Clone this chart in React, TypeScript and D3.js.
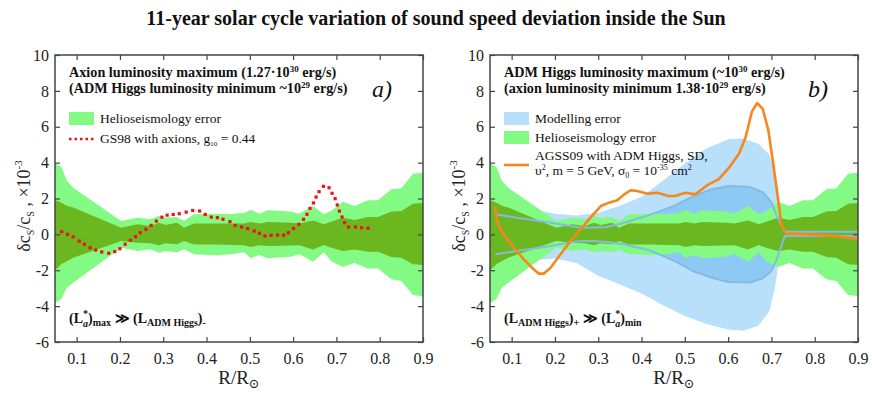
import React, { useEffect, useRef } from "react";
import { select, scaleLinear, axisLeft, axisRight, axisBottom, axisTop, area, line } from "d3";

// helioseismology error bands (same in both panels)
const helioX = [0.05, 0.055, 0.065, 0.077, 0.092, 0.203, 0.24, 0.27, 0.29, 0.305, 0.332, 0.348, 0.371, 0.425, 0.456, 0.487, 0.502, 0.522, 0.541, 0.595, 0.614, 0.646, 0.671, 0.688, 0.715, 0.742, 0.773, 0.796, 0.827, 0.85, 0.877, 0.9];
const helioOuterUp = [3.95, 3.9, 3.75, 3.0, 2.6, 0.75, 0.93, 0.84, 1.02, 0.93, 0.97, 0.75, 1.12, 1.15, 1.12, 1.2, 1.36, 1.15, 1.34, 1.27, 1.15, 1.58, 1.12, 1.3, 1.82, 1.58, 1.9, 1.9, 2.51, 2.57, 3.38, 3.44];
const helioOuterLo = [-3.8, -3.75, -3.6, -2.97, -2.7, -0.74, -0.93, -0.83, -1.02, -0.93, -1.0, -0.83, -1.11, -1.17, -1.11, -1.0, -1.33, -1.15, -1.33, -1.25, -1.1, -1.52, -1.0, -1.5, -1.82, -1.6, -1.9, -1.9, -2.5, -2.6, -3.38, -3.45];
const helioInnerUp = [1.9, 1.86, 1.77, 1.6, 1.5, 0.37, 0.56, 0.47, 0.65, 0.52, 0.65, 0.37, 0.6, 0.6, 0.6, 0.6, 0.69, 0.6, 0.69, 0.65, 0.6, 0.78, 0.56, 0.7, 0.93, 0.8, 0.97, 0.97, 1.27, 1.3, 1.71, 1.75];
const helioInnerLo = [-1.95, -1.9, -1.65, -1.5, -1.3, -0.37, -0.46, -0.5, -0.6, -0.5, -0.55, -0.37, -0.56, -0.56, -0.59, -0.6, -0.7, -0.6, -0.65, -0.62, -0.6, -0.84, -0.59, -0.75, -0.93, -0.85, -0.97, -0.97, -1.26, -1.3, -1.67, -1.71];

// panel a: GS98 with axions
const gsX = [0.0655, 0.079, 0.092, 0.106, 0.118, 0.131, 0.144, 0.158, 0.174, 0.188, 0.2, 0.212, 0.224, 0.236, 0.247, 0.26, 0.272, 0.284, 0.297, 0.309, 0.323, 0.337, 0.353, 0.368, 0.384, 0.397, 0.411, 0.425, 0.438, 0.454, 0.466, 0.481, 0.495, 0.51, 0.522, 0.535, 0.549, 0.564, 0.578, 0.589, 0.601, 0.613, 0.624, 0.632, 0.639, 0.647, 0.653, 0.66, 0.67, 0.683, 0.69, 0.697, 0.702, 0.707, 0.713, 0.719, 0.728, 0.744, 0.758, 0.773];
const gsY = [0.15, 0.0, -0.14, -0.37, -0.55, -0.74, -0.87, -0.98, -1.05, -0.96, -0.8, -0.55, -0.33, -0.13, 0.09, 0.28, 0.5, 0.74, 0.96, 1.07, 1.11, 1.15, 1.24, 1.33, 1.3, 1.11, 0.96, 0.93, 0.84, 0.71, 0.5, 0.41, 0.32, 0.19, 0.06, -0.09, -0.05, -0.04, -0.05, 0.09, 0.33, 0.56, 0.84, 1.12, 1.45, 1.75, 2.08, 2.38, 2.68, 2.6, 2.29, 1.99, 1.64, 1.3, 0.97, 0.65, 0.41, 0.41, 0.37, 0.34];

// panel b: modelling error
const modelOuterX = [0.05, 0.1, 0.15, 0.2, 0.25, 0.3, 0.35, 0.4, 0.45, 0.5, 0.55, 0.6, 0.635, 0.67, 0.695, 0.708, 0.715, 0.722, 0.732, 0.9];
const modelOuterUp = [2.2, 1.8, 1.4, 1.15, 1.05, 1.2, 1.6, 2.1, 3.0, 3.95, 4.8, 5.3, 5.35, 5.05, 4.45, 3.5, 2.2, 0.8, 0.12, 0.12];
const modelOuterLo = [-2.2, -1.8, -1.45, -1.35, -1.6, -2.3, -2.8, -3.3, -3.95, -4.55, -5.0, -5.3, -5.37, -5.1, -4.3, -3.0, -1.8, -0.8, -0.1, -0.1];
const modelInnerX = [0.062, 0.112, 0.19, 0.25, 0.278, 0.32, 0.36, 0.42, 0.476, 0.518, 0.56, 0.6, 0.65, 0.68, 0.7, 0.711, 0.731, 0.9];
const modelInnerUp = [1.12, 0.93, 0.65, 0.41, 0.37, 0.41, 0.65, 1.1, 1.6, 2.1, 2.5, 2.7, 2.65, 2.35, 1.8, 1.1, 0.15, 0.15];
const modelInnerLo = [-1.11, -0.93, -0.65, -0.4, -0.35, -0.42, -0.55, -0.9, -1.48, -2.04, -2.4, -2.65, -2.68, -2.45, -2.04, -1.48, -0.09, -0.09];

// panel b: AGSS09 with ADM Higgs
const agssX = [0.062, 0.066, 0.081, 0.105, 0.128, 0.151, 0.163, 0.174, 0.19, 0.213, 0.236, 0.259, 0.282, 0.306, 0.325, 0.344, 0.36, 0.375, 0.39, 0.414, 0.437, 0.462, 0.478, 0.501, 0.524, 0.555, 0.578, 0.602, 0.625, 0.64, 0.655, 0.667, 0.68, 0.693, 0.705, 0.716, 0.723, 0.734, 0.79, 0.85, 0.9];
const agssY = [1.58, 0.75, 0.0, -0.74, -1.39, -1.95, -2.19, -2.19, -1.86, -1.11, -0.37, 0.28, 0.93, 1.58, 1.77, 1.9, 2.23, 2.46, 2.42, 2.27, 2.32, 2.14, 2.14, 2.32, 2.23, 2.79, 3.07, 3.72, 4.5, 5.39, 6.85, 7.32, 7.0, 5.8, 3.8, 1.86, 0.56, 0.04, 0.0, -0.1, -0.25];

const xTicks = [0.1, 0.2, 0.3, 0.4, 0.5, 0.6, 0.7, 0.8, 0.9];
const yTicks = [-6, -4, -2, 0, 2, 4, 6, 8, 10];

const FONT = "'Liberation Serif', 'DejaVu Serif', serif";
const TOP = 55;
const PW = 368;
const PH = 287;
const LEFTS = [55, 490];

const C = {
  helioOuter: "#82fa84",
  helioInner: "#6bb720",
  modelOuter: "#b9e0fa",
  modelInner: "#8dcaf3",
  modelLine: "#88b9e0",
  agss: "#f7861c",
  gs: "#f01010",
  frame: "#444",
};

const xScale = scaleLinear().domain([0.05, 0.9]).range([0, PW]);
const yScale = scaleLinear().domain([-6, 10]).range([PH, 0]);

function band(g, xs, up, lo, fill) {
  const rows = xs.map((r, i) => ({ r, hi: up[i], lo: lo[i] }));
  const gen = area()
    .x(d => xScale(d.r))
    .y0(d => yScale(d.lo))
    .y1(d => yScale(d.hi));
  g.append("path").attr("d", gen(rows)).attr("fill", fill);
}

function curve(g, xs, ys, color, width) {
  const gen = line()
    .x(i => xScale(xs[i]))
    .y(i => yScale(ys[i]));
  g.append("path")
    .attr("d", gen(xs.map((_, i) => i)))
    .attr("fill", "none")
    .attr("stroke", color)
    .attr("stroke-width", width)
    .attr("stroke-linejoin", "round");
}

function axes(g) {
  const style = sel => {
    sel.select(".domain").remove();
    sel.selectAll("line").attr("stroke", C.frame).attr("stroke-width", 1.2);
    sel.selectAll("text")
      .attr("font-family", FONT)
      .attr("font-size", 16)
      .attr("fill", "#222");
  };
  g.append("g").call(axisLeft(yScale).tickValues(yTicks).tickSize(-5).tickPadding(6).tickFormat(d => String(d))).call(style);
  g.append("g").attr("transform", `translate(${PW},0)`)
    .call(axisRight(yScale).tickValues(yTicks).tickSize(-5).tickFormat(() => "")).call(style);
  g.append("g").attr("transform", `translate(0,${PH})`)
    .call(axisBottom(xScale).tickValues(xTicks).tickSize(-5).tickPadding(11).tickFormat(d => d.toFixed(1))).call(style);
  g.append("g").call(axisTop(xScale).tickValues(xTicks).tickSize(-5).tickFormat(() => "")).call(style);
  g.append("rect")
    .attr("width", PW).attr("height", PH)
    .attr("fill", "none").attr("stroke", C.frame).attr("stroke-width", 1.5);
}

function helio(g) {
  band(g, helioX, helioOuterUp, helioOuterLo, C.helioOuter);
  band(g, helioX, helioInnerUp, helioInnerLo, C.helioInner);
}

function YLabel({ x }) {
  return (
    <text transform={`translate(${x},206) rotate(-90)`} textAnchor="middle" fontFamily={FONT} fontSize={18} fill="#222">
      δc<tspan fontSize={10} dy={4}>S</tspan>
      <tspan dy={-4}>/c</tspan>
      <tspan fontSize={10} dy={4}>S</tspan>
      <tspan dy={-4}> , ×10</tspan>
      <tspan fontSize={11} dy={-8}>-3</tspan>
    </text>
  );
}

function XLabel({ x }) {
  return (
    <text x={x} y={384} textAnchor="middle" fontFamily={FONT} fontSize={19} fill="#222">
      R/R<tspan fontSize={13} dy={4}>⊙</tspan>
    </text>
  );
}

export default function App() {
  const svgRef = useRef(null);

  useEffect(() => {
    const svg = select(svgRef.current);
    svg.selectAll(".plot").remove();

    // panel a
    const ga = svg.insert("g", ".labels").attr("class", "plot").attr("transform", `translate(${LEFTS[0]},${TOP})`);
    helio(ga);
    ga.selectAll(".gs")
      .data(gsX.map((r, i) => ({ r, v: gsY[i] })))
      .join("rect")
      .attr("class", "gs")
      .attr("x", d => xScale(d.r) - 1.6)
      .attr("y", d => yScale(d.v) - 1.6)
      .attr("width", 3.2)
      .attr("height", 3.2)
      .attr("fill", C.gs);
    axes(ga);

    // panel b
    const gb = svg.insert("g", ".labels").attr("class", "plot").attr("transform", `translate(${LEFTS[1]},${TOP})`);
    band(gb, modelOuterX, modelOuterUp, modelOuterLo, C.modelOuter);
    band(gb, modelInnerX, modelInnerUp, modelInnerLo, C.modelInner);
    helio(gb);
    curve(gb, modelInnerX, modelInnerUp, C.modelLine, 2);
    curve(gb, modelInnerX, modelInnerLo, C.modelLine, 2);
    curve(gb, agssX, agssY, C.agss, 2.6);
    axes(gb);
  }, []);

  const la = LEFTS[0] + 14;
  const lb = LEFTS[1] + 14;

  return (
    <div style={{ position: "absolute", left: 0, top: 0 }}>
      <svg ref={svgRef} width={872} height={393} style={{ display: "block", background: "#fff" }}>
        <g className="labels" fontFamily={FONT} fill="#111">
          <text x={436} y={25} textAnchor="middle" fontWeight="bold" fontSize={20}>
            11-year solar cycle variation of sound speed deviation inside the Sun
          </text>
          <YLabel x={30} />
          <YLabel x={465} />
          <XLabel x={LEFTS[0] + PW / 2} />
          <XLabel x={LEFTS[1] + PW / 2} />

          {/* panel a */}
          <text x={la} y={77} fontWeight="bold" fontSize={14.2}>
            Axion luminosity maximum (1.27·10<tspan fontSize={9} dy={-5}>30</tspan><tspan dy={5}> erg/s)</tspan>
          </text>
          <text x={la} y={93} fontWeight="bold" fontSize={14.2}>
            (ADM Higgs luminosity minimum ~10<tspan fontSize={9} dy={-5}>29</tspan><tspan dy={5}> erg/s)</tspan>
          </text>
          <text x={372} y={97} fontStyle="italic" fontSize={24}>a)</text>
          <rect x={la} y={112} width={25} height={13} fill={C.helioOuter} />
          <text x={la + 31} y={123} fontSize={13.5}>Helioseismology error</text>
          <line x1={la} x2={la + 25} y1={139} y2={139} stroke={C.gs} strokeWidth={2.5} strokeDasharray="2.5 3" />
          <text x={la + 31} y={143} fontSize={13.5}>
            GS98 with axions, g<tspan fontSize={7} dy={3}>10</tspan><tspan dy={-3}> = 0.44</tspan>
          </text>
          <text x={la} y={323} fontWeight="bold" fontSize={14}>
            (L<tspan fontSize={10} dy={-6}>*</tspan>
            <tspan fontSize={10} dx={-5} dy={10} fontStyle="italic">a</tspan>
            <tspan dy={-4}>)</tspan>
            <tspan fontSize={10} dy={3}>max</tspan>
            <tspan dy={-3}> ≫ (L</tspan>
            <tspan fontSize={10} dy={3}>ADM Higgs</tspan>
            <tspan dy={-3}>)</tspan>
            <tspan fontSize={10} dy={3}>-</tspan>
          </text>

          {/* panel b */}
          <text x={lb} y={77} fontWeight="bold" fontSize={14.2}>
            ADM Higgs luminosity maximum (~10<tspan fontSize={9} dy={-5}>30</tspan><tspan dy={5}> erg/s)</tspan>
          </text>
          <text x={lb} y={93} fontWeight="bold" fontSize={14.2}>
            (axion luminosity minimum 1.38·10<tspan fontSize={9} dy={-5}>29</tspan><tspan dy={5}> erg/s)</tspan>
          </text>
          <text x={808} y={97} fontStyle="italic" fontSize={24}>b)</text>
          <rect x={lb} y={112} width={25} height={13} fill={C.modelOuter} />
          <text x={lb + 31} y={123} fontSize={13.5}>Modelling error</text>
          <rect x={lb} y={131} width={25} height={13} fill={C.helioOuter} />
          <text x={lb + 31} y={142} fontSize={13.5}>Helioseismology error</text>
          <line x1={lb} x2={lb + 25} y1={165} y2={165} stroke={C.agss} strokeWidth={2.6} />
          <text x={lb + 31} y={160} fontSize={13.5}>AGSS09 with ADM Higgs, SD,</text>
          <text x={lb + 31} y={175} fontSize={13.5}>
            υ<tspan fontSize={8} dy={-5}>2</tspan>
            <tspan dy={5}>, m = 5 GeV, σ</tspan>
            <tspan fontSize={8} dy={3}>0</tspan>
            <tspan dy={-3}> = 10</tspan>
            <tspan fontSize={8} dy={-5}>-35</tspan>
            <tspan dy={5}> cm</tspan>
            <tspan fontSize={8} dy={-5}>2</tspan>
          </text>
          <text x={lb} y={323} fontWeight="bold" fontSize={14}>
            (L<tspan fontSize={10} dy={3}>ADM Higgs</tspan>
            <tspan dy={-3}>)</tspan>
            <tspan fontSize={10} dy={3}>+</tspan>
            <tspan dy={-3}> ≫ (L</tspan>
            <tspan fontSize={10} dy={-6}>*</tspan>
            <tspan fontSize={10} dx={-5} dy={10} fontStyle="italic">a</tspan>
            <tspan dy={-4}>)</tspan>
            <tspan fontSize={10} dy={3}>min</tspan>
          </text>
        </g>
      </svg>
    </div>
  );
}
